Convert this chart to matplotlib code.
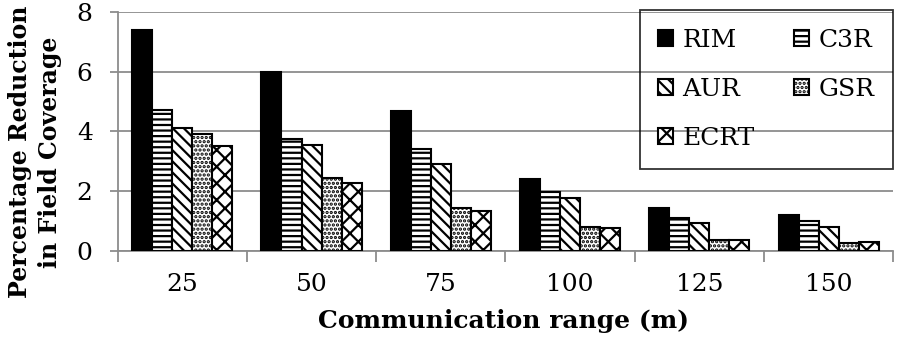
import numpy as np
import matplotlib.pyplot as plt
import matplotlib as mpl

mpl.rcParams["font.family"] = "DejaVu Serif"
mpl.rcParams["hatch.linewidth"] = 1.6

# Data
ranges = ["25", "50", "75", "100", "125", "150"]
rim = [7.4, 6.0, 4.68, 2.4, 1.45, 1.2]
c3r = [4.72, 3.75, 3.4, 1.96, 1.11, 1.0]
aur = [4.11, 3.55, 2.9, 1.76, 0.93, 0.81]
gsr = [3.9, 2.44, 1.43, 0.81, 0.37, 0.26]
ecrt = [3.5, 2.27, 1.33, 0.76, 0.37, 0.29]

series = [("RIM", rim, "black", ""),
          ("C3R", c3r, "white", "---"),
          ("AUR", aur, "white", "\\\\\\"),
          ("GSR", gsr, "white", "...."),
          ("ECRT", ecrt, "white", "xx")]

fig = plt.figure(figsize=(9.05, 3.52), dpi=100)
ax = fig.add_axes([0.130, 0.287, 0.857, 0.679])

x = np.arange(len(ranges))
w = 0.155
handles = {}
for i, (name, vals, fc, hatch) in enumerate(series):
    b = ax.bar(x + (i - 2) * w, vals, w, color=fc, edgecolor="black",
               hatch=hatch, linewidth=1.5, zorder=3, label=name)
    handles[name] = b

ax.set_ylim(0, 8)
ax.set_xlim(-0.5, len(ranges) - 0.5)
ax.set_yticks([0, 2, 4, 6, 8])
ax.yaxis.grid(True, color="#8c8c8c", linewidth=1.3, zorder=0)
ax.tick_params(axis="y", labelsize=18, length=6, color="#8c8c8c", width=1.3, pad=12)

ax.set_xticks(x)
ax.set_xticklabels(ranges)
ax.tick_params(axis="x", labelsize=18, length=0, pad=16)
ax.set_xticks(np.arange(-0.5, len(ranges), 1.0), minor=True)
ax.tick_params(axis="x", which="minor", length=8, color="#8c8c8c", width=1.3)

for s in ["top", "right"]:
    ax.spines[s].set_visible(False)
for s in ["left", "bottom"]:
    ax.spines[s].set_color("#8c8c8c")
    ax.spines[s].set_linewidth(1.3)

ax.set_xlabel("Communication range (m)", fontsize=18, fontweight="bold")
ax.xaxis.label.set_va("center")
ax.xaxis.set_label_coords(0.498, -0.293)
ax.set_ylabel("Percentage Reduction\nin Field Coverage", fontsize=17,
              fontweight="bold", linespacing=1.3)
ax.yaxis.label.set_va("center")
ax.yaxis.set_label_coords(-0.107, 0.414)

order = ["RIM", "AUR", "ECRT", "C3R", "GSR"]
leg = ax.legend([handles[n] for n in order], order, ncol=2, loc="upper right",
                bbox_to_anchor=(0.9867, 0.9716), bbox_transform=fig.transFigure,
                fontsize=18, frameon=True, fancybox=False, edgecolor="black",
                facecolor="none", handlelength=0.6, handleheight=0.6,
                handletextpad=0.35, columnspacing=1.6, labelspacing=1.05,
                borderpad=0.75, borderaxespad=0)
leg.get_frame().set_linewidth(1.3)
leg.set_zorder(5)

fig.savefig("out.png", dpi=100)
